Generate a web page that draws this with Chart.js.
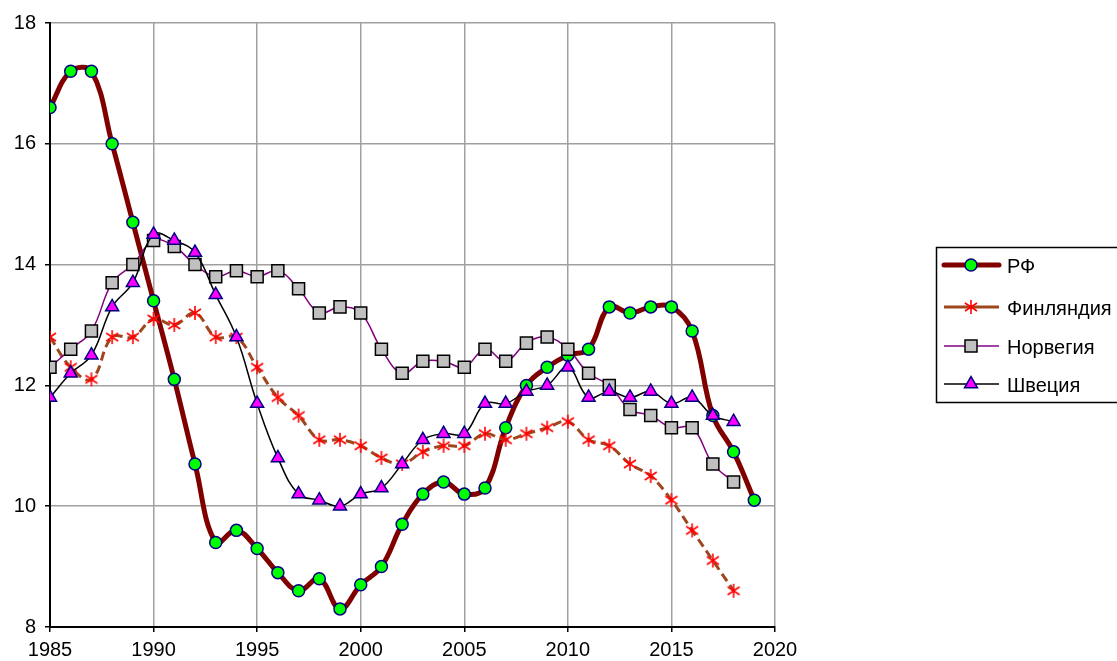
<!DOCTYPE html>
<html>
<head>
<meta charset="utf-8">
<script src="https://cdn.jsdelivr.net/npm/chart.js@4/dist/chart.umd.min.js"></script>
<style>
  html, body { margin: 0; padding: 0; background: #fff; }
  #wrap { width: 1117px; height: 661px; }
</style>
</head>
<body>
<div id="wrap"><canvas id="chart" width="1117" height="661"></canvas></div>
<script>
var years = [];
for (var y = 1985; y <= 2019; y++) years.push(y);

var rf = [16.6, 17.2, 17.2, 16.0, 14.7, 13.4, 12.1, 10.7, 9.4, 9.6,
          9.3, 8.9, 8.6, 8.8, 8.3, 8.7, 9.0, 9.7, 10.2, 10.4,
          10.2, 10.3, 11.3, 12.0, 12.3, 12.5, 12.6, 13.3, 13.2, 13.3,
          13.3, 12.9, 11.5, 10.9, 10.1];
var finland = [12.8, 12.3, 12.1, 12.8, 12.8, 13.1, 13.0, 13.2, 12.8, 12.8,
               12.3, 11.8, 11.5, 11.1, 11.1, 11.0, 10.8, 10.7, 10.9, 11.0,
               11.0, 11.2, 11.1, 11.2, 11.3, 11.4, 11.1, 11.0, 10.7, 10.5,
               10.1, 9.6, 9.1, 8.6];
var norway = [12.3, 12.6, 12.9, 13.7, 14.0, 14.4, 14.3, 14.0, 13.8, 13.9,
              13.8, 13.9, 13.6, 13.2, 13.3, 13.2, 12.6, 12.2, 12.4, 12.4,
              12.3, 12.6, 12.4, 12.7, 12.8, 12.6, 12.2, 12.0, 11.6, 11.5,
              11.3, 11.3, 10.7, 10.4];
var sweden = [11.8, 12.2, 12.5, 13.3, 13.7, 14.5, 14.4, 14.2, 13.5, 12.8,
              11.7, 10.8, 10.2, 10.1, 10.0, 10.2, 10.3, 10.7, 11.1, 11.2,
              11.2, 11.7, 11.7, 11.9, 12.0, 12.3, 11.8, 11.9, 11.8, 11.9,
              11.7, 11.8, 11.5, 11.4];
var seriesNames = ['РФ', 'Финляндия', 'Норвегия', 'Швеция'];
var xTicks = [1985, 1990, 1995, 2000, 2005, 2010, 2015, 2020];
var yTicks = [8, 10, 12, 14, 16, 18];

function pts(vals) {
    return vals.map(function (v, i) { return { x: years[i], y: v }; });
}

// asterisk marker for Finland
var star = document.createElement('canvas');
star.width = 18; star.height = 18;
(function () {
    var c = star.getContext('2d');
    c.strokeStyle = '#ff0000';
    c.lineWidth = 1.6;
    c.beginPath();
    c.moveTo(9, 2); c.lineTo(9, 16);
    c.moveTo(3, 5); c.lineTo(15, 13);
    c.moveTo(3, 13); c.lineTo(15, 5);
    c.stroke();
})();

var fontFamily = '"Liberation Sans", Arial, sans-serif';
var font = { family: fontFamily, size: 20 };

var legendBox = {
    id: 'legendBox',
    afterDraw: function (chart) {
        var ctx = chart.ctx;
        ctx.save();
        ctx.strokeStyle = '#000';
        ctx.lineWidth = 1.5;
        ctx.strokeRect(936.5, 247.5, 200, 155);
        var rows = [265, 307, 346, 384];
        chart.data.datasets.forEach(function (ds, i) {
            var yy = rows[i];
            ctx.save();
            ctx.strokeStyle = ds.borderColor;
            ctx.lineWidth = ds.borderWidth;
            ctx.lineCap = ds.borderWidth > 3 ? 'round' : 'butt';
            ctx.beginPath();
            ctx.moveTo(944, yy);
            ctx.lineTo(999, yy);
            ctx.stroke();
            ctx.restore();
            ctx.fillStyle = ds.pointBackgroundColor;
            ctx.strokeStyle = ds.pointBorderColor;
            ctx.lineWidth = ds.pointBorderWidth;
            Chart.helpers.drawPoint(ctx, {
                pointStyle: ds.pointStyle,
                radius: ds.pointRadius,
                borderWidth: ds.pointBorderWidth,
                rotation: 0
            }, 971, yy);
            ctx.fillStyle = '#000';
            ctx.font = '20px ' + fontFamily;
            ctx.textBaseline = 'middle';
            ctx.fillText(seriesNames[i], 1007, yy + 2);
        });
        ctx.restore();
    }
};

new Chart(document.getElementById('chart').getContext('2d'), {
    type: 'line',
    data: {
        datasets: [{
            label: seriesNames[0],
            data: pts(rf),
            borderColor: '#800000',
            borderWidth: 5,
            tension: 0.4,
            pointStyle: 'circle',
            pointRadius: 6,
            pointBackgroundColor: '#00ff00',
            pointBorderColor: '#000080',
            pointBorderWidth: 1.5,
            order: 4
        }, {
            label: seriesNames[1],
            data: pts(finland),
            borderColor: '#a0461e',
            borderWidth: 3,
            borderDash: [9, 5],
            tension: 0.4,
            pointStyle: star,
            pointRadius: 8,
            pointBackgroundColor: '#ff0000',
            pointBorderColor: '#ff0000',
            pointBorderWidth: 1.5,
            order: 3
        }, {
            label: seriesNames[2],
            data: pts(norway),
            borderColor: '#800080',
            borderWidth: 1.5,
            tension: 0.4,
            pointStyle: 'rect',
            pointRadius: 8.5,
            pointBackgroundColor: '#c0c0c0',
            pointBorderColor: '#000000',
            pointBorderWidth: 1.5,
            order: 2
        }, {
            label: seriesNames[3],
            data: pts(sweden),
            borderColor: '#000000',
            borderWidth: 1.5,
            tension: 0.4,
            pointStyle: 'triangle',
            pointRadius: 7.5,
            pointBackgroundColor: '#ff00ff',
            pointBorderColor: '#000080',
            pointBorderWidth: 1.5,
            order: 1
        }]
    },
    options: {
        responsive: false,
        animation: false,
        layout: { padding: { left: 0, right: 342, top: 23, bottom: 0 } },
        scales: {
            x: {
                type: 'linear',
                min: 1985,
                max: 2020,
                afterBuildTicks: function (s) {
                    s.ticks = xTicks.map(function (v) { return { value: v }; });
                },
                afterFit: function (s) { s.height = 34; },
                grid: { color: '#a0a0a0', lineWidth: 1.5, tickColor: '#000', tickLength: 5 },
                border: { color: '#000', width: 2 },
                ticks: { color: '#000', font: font, padding: 6, maxRotation: 0,
                    callback: function (v) { return String(v); } }
            },
            y: {
                min: 8,
                max: 18,
                afterBuildTicks: function (s) {
                    s.ticks = yTicks.map(function (v) { return { value: v }; });
                },
                afterFit: function (s) { s.width = 50; },
                grid: { color: '#a0a0a0', lineWidth: 1.5, tickColor: '#000', tickLength: 5 },
                border: { color: '#000', width: 2 },
                ticks: { color: '#000', font: font, padding: 9 }
            }
        },
        plugins: {
            legend: { display: false },
            tooltip: { enabled: false }
        }
    },
    plugins: [legendBox]
});
</script>
</body>
</html>
